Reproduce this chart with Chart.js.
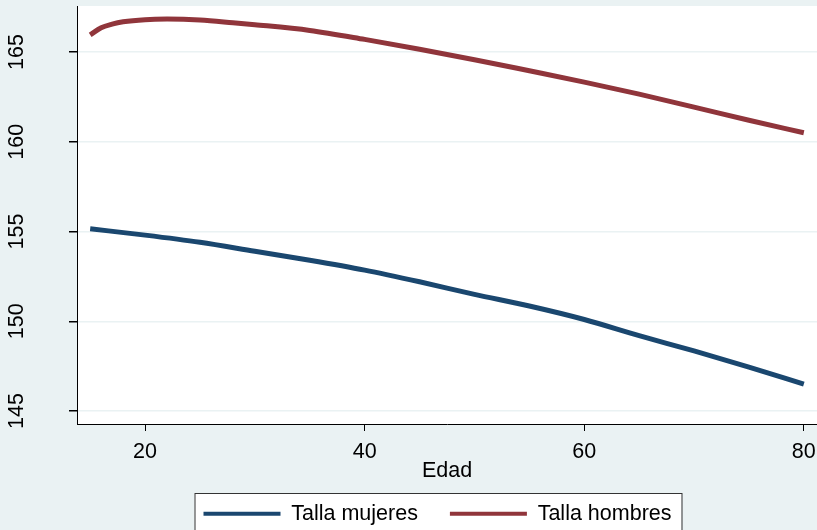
<!DOCTYPE html>
<html>
<head>
<meta charset="utf-8">
<script src="https://cdn.jsdelivr.net/npm/chart.js@4/dist/chart.umd.min.js"></script>
<style>
html, body { margin: 0; padding: 0; background: #eaf2f3; }
canvas { display: block; }
</style>
</head>
<body>
<canvas id="grafico" width="817" height="530"></canvas>
<script>
// datos (talla media por edad)
const edadesHombres = [15, 16, 17, 18, 20, 22, 25, 28, 30, 35, 40, 45, 50, 55, 60, 65, 70, 75, 80];
const tallaHombres = [165.95, 166.35, 166.55, 166.68, 166.8, 166.83, 166.78, 166.63, 166.52, 166.2, 165.7, 165.15, 164.57, 163.95, 163.32, 162.65, 161.93, 161.2, 160.5];
const edadesMujeres = [15, 20, 25, 30, 35, 40, 45, 50, 55, 60, 65, 70, 75, 80];
const tallaMujeres = [155.15, 154.8, 154.4, 153.9, 153.4, 152.85, 152.2, 151.5, 150.85, 150.1, 149.2, 148.35, 147.45, 146.5];
const ticksEdad = [20, 40, 60, 80];
const ticksTalla = [145, 150, 155, 160, 165];
const etiquetas = ["Talla mujeres", "Talla hombres"];

const fuente = "'Liberation Sans', Arial, sans-serif";
const tam = 21.5;
const azul = "#1a476f";
const granate = "#90353b";

//juntar x e y para cada serie
function puntos(xs, ys) {
	let arr = [];
	for (let i = 0; i < xs.length; i++) {
		arr.push({ x: xs[i], y: ys[i] });
	}
	return arr;
}

//fondo gris azulado, zona del grafico en blanco y caja de la leyenda
const fondo = {
	id: "fondo",
	afterLayout: function (chart) {
		chart.legend.left += 29;
		chart.legend.right += 29;
	},
	beforeDraw: function (chart) {
		const ctx = chart.ctx;
		const a = chart.chartArea;
		ctx.save();
		ctx.fillStyle = "#eaf2f3";
		ctx.fillRect(0, 0, chart.width, chart.height);
		ctx.fillStyle = "#ffffff";
		ctx.fillRect(a.left, a.top, a.right - a.left, a.bottom - a.top);
		const cajas = chart.legend.legendHitBoxes;
		if (cajas && cajas.length) {
			const ultima = cajas[cajas.length - 1];
			const izq = cajas[0].left - 9;
			const der = ultima.left + ultima.width + 10;
			const arriba = cajas[0].top - 10;
			ctx.fillStyle = "#ffffff";
			ctx.fillRect(izq, arriba, der - izq, chart.height - arriba + 10);
			ctx.strokeStyle = "#333333";
			ctx.lineWidth = 1;
			ctx.strokeRect(izq + 0.5, arriba + 0.5, der - izq, chart.height - arriba + 10);
		}
		ctx.restore();
	},
};

const config = {
	type: "line",
	data: {
		datasets: [
			{
				label: etiquetas[0],
				data: puntos(edadesMujeres, tallaMujeres),
				borderColor: azul,
				backgroundColor: azul,
				borderWidth: 5,
				pointRadius: 0,
				cubicInterpolationMode: "monotone",
			},
			{
				label: etiquetas[1],
				data: puntos(edadesHombres, tallaHombres),
				borderColor: granate,
				backgroundColor: granate,
				borderWidth: 5,
				pointRadius: 0,
				cubicInterpolationMode: "monotone",
			},
		],
	},
	options: {
		responsive: false,
		animation: false,
		layout: { padding: { top: 6, right: 0, bottom: -4.5, left: 0 } },
		plugins: {
			tooltip: { enabled: false },
			legend: {
				position: "bottom",
				labels: {
					color: "#000",
					font: { family: fuente, size: tam },
					boxWidth: 77,
					boxHeight: 4,
					padding: 32,
					generateLabels: function (chart) {
						const items = Chart.defaults.plugins.legend.labels.generateLabels(chart);
						items.forEach(function (it) { it.lineWidth = 0; });
						return items;
					},
				},
			},
		},
		scales: {
			x: {
				type: "linear",
				min: 13.8,
				max: 81.2,
				afterBuildTicks: function (scale) {
					scale.ticks = ticksEdad.map(function (v) { return { value: v }; });
				},
				afterFit: function (scale) {
					scale.height = 47;
					scale.paddingLeft = 0;
					scale.paddingRight = 0;
				},
				grid: { drawOnChartArea: false, tickLength: 7, tickColor: "#000" },
				border: { color: "#000", width: 1 },
				ticks: { color: "#000", font: { family: fuente, size: tam }, padding: 8, maxRotation: 0 },
				title: { display: true, text: "Edad", color: "#000", font: { family: fuente, size: tam }, padding: -13 },
			},
			y: {
				type: "linear",
				min: 144.28,
				max: 167.56,
				afterBuildTicks: function (scale) {
					scale.ticks = ticksTalla.map(function (v) { return { value: v }; });
				},
				afterFit: function (scale) {
					scale.width = 77;
					scale.paddingTop = 0;
					scale.paddingBottom = 0;
				},
				grid: { color: "#eaf2f3", lineWidth: 1.5, tickLength: 8, tickColor: "#000" },
				border: { color: "#000", width: 1 },
				ticks: { color: "#000", font: { family: fuente, size: tam }, minRotation: 90, maxRotation: 90, crossAlign: "center", padding: 34 },
			},
		},
	},
	plugins: [fondo],
};

const grafico = new Chart(document.getElementById("grafico"), config);
</script>
</body>
</html>
